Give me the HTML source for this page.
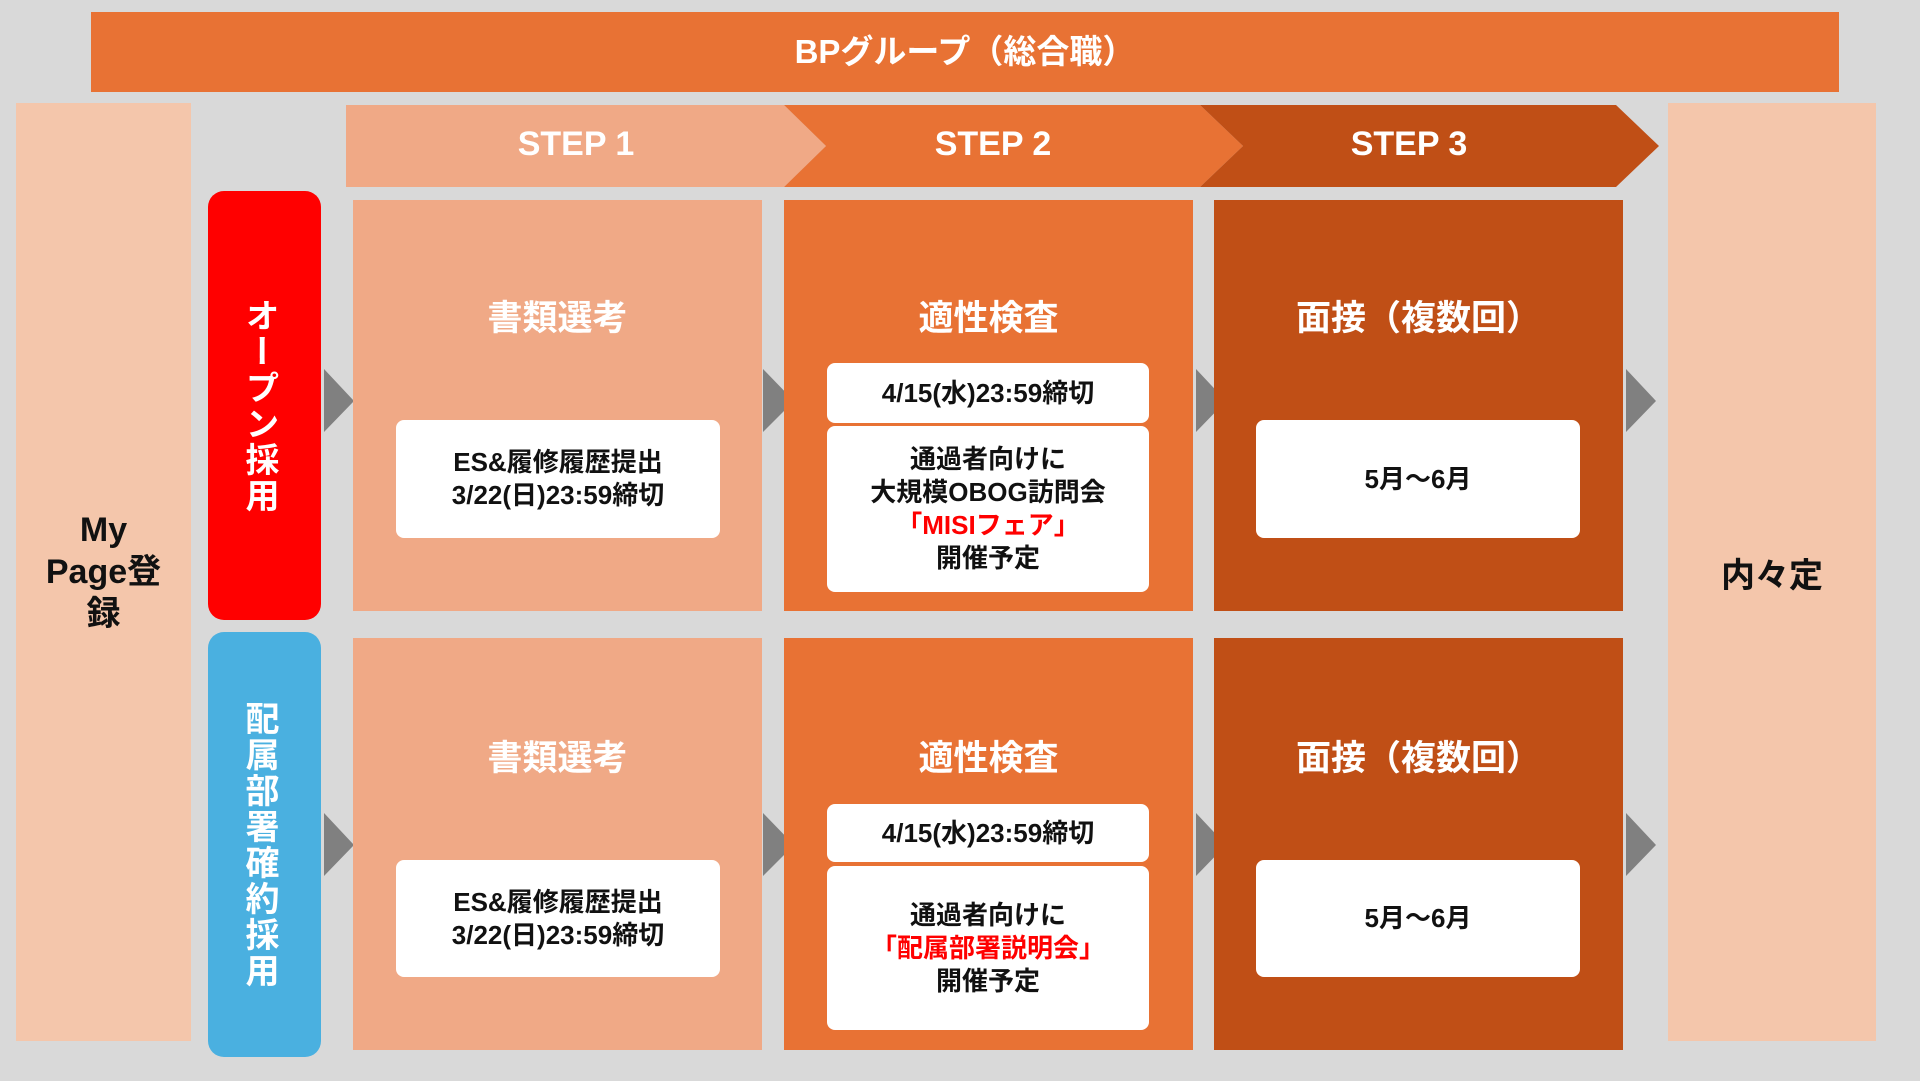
<!DOCTYPE html>
<html><head><meta charset="utf-8"><style>
*{margin:0;padding:0;box-sizing:border-box}
body{width:1920px;height:1081px;background:#d9d9d9;position:relative;overflow:hidden;font-family:"Liberation Sans","Noto Sans CJK JP",sans-serif;font-weight:bold}
.a{position:absolute}
.c{display:flex;align-items:center;justify-content:center;text-align:center}
.w{background:#fff;border-radius:8px;color:#111;font-size:26px;line-height:33px}
.t{color:#fff;font-size:35px;width:409px;text-align:center}
.s1{background:#f0a986}.s2{background:#e87234}.s3{background:#c04f16}
.v{writing-mode:vertical-rl;color:#fff;font-size:34px;letter-spacing:2px;border-radius:16px;padding-right:10px}
.r{color:#f00}
</style></head><body>
<div class="a c" style="left:91px;top:12px;width:1748px;height:80px;background:#e87234;color:#fff;font-size:33px;padding-bottom:6px">BPグループ（総合職）</div>
<div class="a c" style="left:16px;top:103px;width:175px;height:938px;background:#f4c6ab;color:#111;font-size:34px;line-height:42px"><div>My<br>Page登<br>録</div></div>
<div class="a c" style="left:1668px;top:103px;width:208px;height:938px;background:#f4c6ab;color:#111;font-size:34px">内々定</div>
<svg class="a" style="left:0;top:0" width="1920" height="1081">
<polygon points="346,105 784,105 826,146 784,187 346,187" fill="#f0a986"/>
<polygon points="784,105 1200,105 1243,146 1200,187 784,187 826,146" fill="#e87234"/>
<polygon points="1200,105 1616,105 1659,146 1616,187 1200,187 1243,146" fill="#c04f16"/>
<g fill="#808080">
<polygon points="324,369 354,401 324,432"/><polygon points="763,369 794,401 763,432"/><polygon points="1196,369 1226,401 1196,432"/><polygon points="1626,369 1656,401 1626,432"/>
<polygon points="324,813 354,845 324,876"/><polygon points="763,813 794,845 763,876"/><polygon points="1196,813 1226,845 1196,876"/><polygon points="1626,813 1656,845 1626,876"/>
</g>
<g fill="#fff" font-size="34" font-family="Liberation Sans, Noto Sans CJK JP, sans-serif" font-weight="bold" text-anchor="middle">
<text x="576" y="155">STEP 1</text><text x="993" y="155">STEP 2</text><text x="1409" y="155">STEP 3</text>
</g>
</svg>
<div class="a c v" style="left:208px;top:191px;width:113px;height:429px;background:#ff0000">オープン採用</div>
<div class="a c v" style="left:208px;top:632px;width:113px;height:425px;background:#4ab0e0">配属部署確約採用</div>

<div class="a s1" style="left:353px;top:200px;width:409px;height:411px"></div>
<div class="a s2" style="left:784px;top:200px;width:409px;height:411px"></div>
<div class="a s3" style="left:1214px;top:200px;width:409px;height:411px"></div>
<div class="a s1" style="left:353px;top:638px;width:409px;height:412px"></div>
<div class="a s2" style="left:784px;top:638px;width:409px;height:412px"></div>
<div class="a s3" style="left:1214px;top:638px;width:409px;height:412px"></div>

<div class="a t" style="left:353px;top:290px">書類選考</div>
<div class="a t" style="left:784px;top:290px">適性検査</div>
<div class="a t" style="left:1214px;top:290px">面接（複数回）</div>
<div class="a t" style="left:353px;top:730px">書類選考</div>
<div class="a t" style="left:784px;top:730px">適性検査</div>
<div class="a t" style="left:1214px;top:730px">面接（複数回）</div>

<div class="a c w" style="left:396px;top:420px;width:324px;height:118px"><div>ES&amp;履修履歴提出<br>3/22(日)23:59締切</div></div>
<div class="a c w" style="left:827px;top:363px;width:322px;height:60px">4/15(水)23:59締切</div>
<div class="a c w" style="left:827px;top:426px;width:322px;height:166px"><div>通過者向けに<br>大規模OBOG訪問会<br><span class="r">「MISIフェア」</span><br>開催予定</div></div>
<div class="a c w" style="left:1256px;top:420px;width:324px;height:118px">5月～6月</div>

<div class="a c w" style="left:396px;top:860px;width:324px;height:117px"><div>ES&amp;履修履歴提出<br>3/22(日)23:59締切</div></div>
<div class="a c w" style="left:827px;top:804px;width:322px;height:58px">4/15(水)23:59締切</div>
<div class="a c w" style="left:827px;top:866px;width:322px;height:164px"><div>通過者向けに<br><span class="r">「配属部署説明会」</span><br>開催予定</div></div>
<div class="a c w" style="left:1256px;top:860px;width:324px;height:117px">5月～6月</div>
</body></html>
